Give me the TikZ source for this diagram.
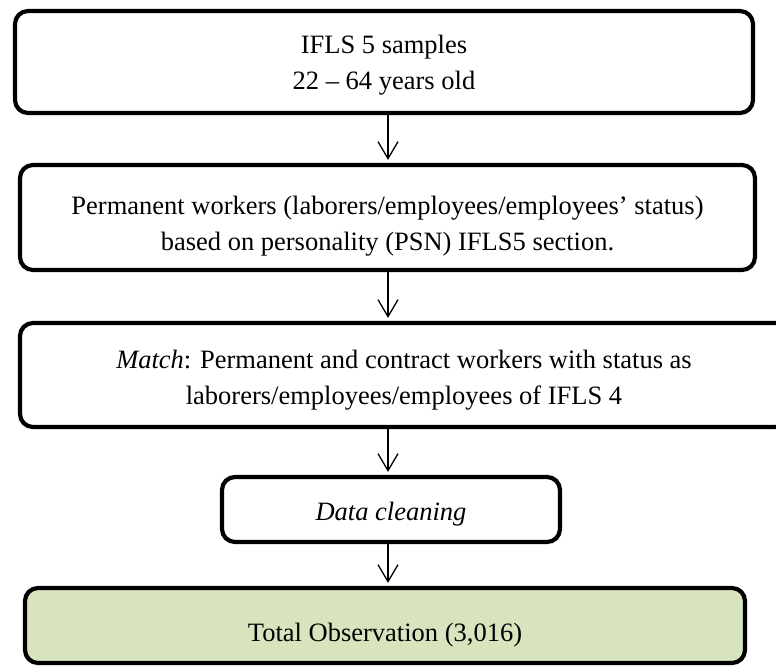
\documentclass[tikz,border=0pt]{standalone}
\usepackage{fontspec}
\setmainfont{Liberation Serif}
\usetikzlibrary{arrows.meta}
\definecolor{obsgreen}{RGB}{215,228,189}
\tikzset{
  stepbox/.style={draw, line width=4.2pt, rounded corners=13pt, align=center, inner sep=0pt,
    font=\fontsize{26.5}{36}\selectfont},
  flowarrow/.style={-{Straight Barb[length=17pt,width=20pt]}, line width=1.3pt, shorten >=3pt}
}
\begin{document}
\begin{tikzpicture}[x=1pt,y=1pt]
\clip (0,0) rectangle (776,665);
\node[stepbox, minimum width=738pt, minimum height=102pt] (samples) at (384,603) {\rule{0pt}{24pt}IFLS 5 samples\\22 -- 64 years old};
\node[stepbox, minimum width=735pt, minimum height=105pt] (permanent) at (387.5,447.5) {\rule{0pt}{36pt}Permanent workers (laborers/employees/employees' status)\\based on personality (PSN) IFLS5 section.};
\node[stepbox, minimum width=768pt, minimum height=104pt] (match) at (404,290) {\rule{0pt}{28pt}\textit{Match}: Permanent and contract workers with status as\\laborers/employees/employees of IFLS 4};
\node[stepbox, minimum width=338pt, minimum height=65pt] (cleaning) at (391,155.5) {\rule{0pt}{28pt}\textit{Data cleaning}};
\node[stepbox, fill=obsgreen, minimum width=720pt, minimum height=75pt] (total) at (385,39.5) {\rule{0pt}{37pt}Total Observation (3,016)};
\coordinate (spine) at (388,0);
\draw[flowarrow] (spine |- samples.south) -- (spine |- permanent.north);
\draw[flowarrow] (spine |- permanent.south) -- (spine |- match.north);
\draw[flowarrow] (spine |- match.south) -- (spine |- cleaning.north);
\draw[flowarrow] (spine |- cleaning.south) -- (spine |- total.north);
\end{tikzpicture}
\end{document}
